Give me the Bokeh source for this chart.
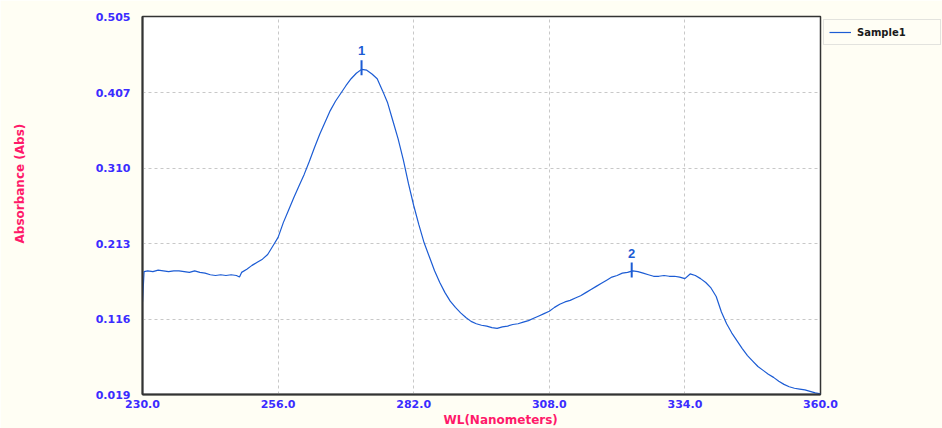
from math import pi
from bokeh.plotting import figure
from bokeh.models import (FixedTicker, NumeralTickFormatter, Legend, LegendItem,
                          Title, ColumnDataSource)
from bokeh.core.properties import value
from bokeh.embed import file_html
from bokeh.resources import INLINE

# ---- data ----
wavelength = [230.0, 230.3, 231, 232, 233, 234, 235, 236, 237, 238, 239, 240,
              241, 242, 243, 244, 245, 246, 247, 248, 248.6, 249, 250, 251, 252,
              253, 254, 255, 256, 257, 258, 259, 260, 261, 262, 263, 264, 265,
              266, 267, 268, 269, 270, 271, 272, 273, 274, 275, 276, 277, 278,
              279, 280, 281, 282, 283, 284, 285, 286, 287, 288, 289, 290, 291,
              292, 293, 294, 295, 296, 297, 298, 299, 300, 301, 302, 303, 304,
              305, 306, 307, 308, 309, 310, 311, 312, 313, 314, 315, 316, 317,
              318, 319, 320, 321, 322, 323, 324, 325, 326, 327, 328, 329, 330,
              331, 332, 333, 334, 335, 336, 337, 338, 339, 340, 341, 342, 343,
              344, 345, 346, 347, 348, 349, 350, 351, 352, 353, 354, 355, 356,
              357, 358, 359, 360]
absorbance = [0.138, 0.177, 0.178, 0.177, 0.179, 0.178, 0.177, 0.178, 0.178, 0.177,
              0.176, 0.178, 0.176, 0.175, 0.173, 0.172, 0.173, 0.172, 0.173, 0.172,
              0.170, 0.176, 0.180, 0.185, 0.189, 0.193, 0.199, 0.210, 0.221, 0.240,
              0.256, 0.272, 0.287, 0.302, 0.319, 0.337, 0.354, 0.369, 0.384, 0.396,
              0.406, 0.416, 0.425, 0.432, 0.437, 0.436, 0.431, 0.425, 0.410, 0.394,
              0.371, 0.348, 0.321, 0.290, 0.262, 0.237, 0.214, 0.196, 0.178, 0.163,
              0.150, 0.139, 0.131, 0.124, 0.118, 0.113, 0.110, 0.108, 0.107, 0.105,
              0.104, 0.106, 0.107, 0.109, 0.110, 0.112, 0.114, 0.117, 0.120, 0.123,
              0.126, 0.131, 0.135, 0.138, 0.140, 0.143, 0.146, 0.150, 0.154, 0.158,
              0.162, 0.166, 0.170, 0.172, 0.175, 0.176, 0.178, 0.177, 0.175, 0.173,
              0.171, 0.171, 0.172, 0.171, 0.171, 0.170, 0.168, 0.174, 0.172, 0.168,
              0.163, 0.156, 0.145, 0.125, 0.110, 0.098, 0.088, 0.078, 0.069, 0.062,
              0.055, 0.050, 0.045, 0.041, 0.036, 0.032, 0.029, 0.027, 0.026, 0.025,
              0.023, 0.021, 0.020]

peak_wl = [272.0, 323.8]
peak_abs = [0.439, 0.179]
peak_labels = ["1", "2"]

x_ticks = [230.0, 256.0, 282.0, 308.0, 334.0, 360.0]
y_ticks = [0.019, 0.116, 0.213, 0.310, 0.407, 0.505]

series_name = "Sample1"
x_title = "WL(Nanometers)"
y_title = "Absorbance (Abs)"

# ---- styling ----
LINE = "#1c5cd4"
TICK_COLOR = "#3b2cff"
TITLE_COLOR = "#ff1a6a"
BG = "#fffef4"
FONT = "DejaVu Sans"

p = figure(frame_width=678, frame_height=378, output_backend="svg",
           toolbar_location=None,
           x_range=(x_ticks[0], x_ticks[-1]), y_range=(y_ticks[0], y_ticks[-1]),
           min_border_left=142, min_border_right=122, min_border_top=16,
           min_border_bottom=34, background_fill_color="white",
           border_fill_color=BG)

src = ColumnDataSource(dict(x=wavelength, y=absorbance))
r = p.line("x", "y", source=src, line_color=LINE, line_width=1.2)

pk = ColumnDataSource(dict(x=peak_wl, y=peak_abs, t=peak_labels))
p.scatter("x", "y", source=pk, marker="dash", angle=pi / 2, size=15,
          line_color=LINE, line_width=2)
p.text("x", "y", text="t", source=pk, y_offset=-17, text_align="center",
       text_baseline="middle", text_color=LINE, text_font=value("Liberation Sans"),
       text_font_size="13px", text_font_style="bold")

# axes
p.xaxis.ticker = FixedTicker(ticks=x_ticks)
p.yaxis.ticker = FixedTicker(ticks=y_ticks)
p.xaxis.formatter = NumeralTickFormatter(format="0.0")
p.yaxis.formatter = NumeralTickFormatter(format="0.000")
for ax in (p.xaxis[0], p.yaxis[0]):
    ax.major_label_text_color = TICK_COLOR
    ax.major_label_text_font = FONT
    ax.major_label_text_font_style = "bold"
    ax.major_label_text_font_size = "11px"
    ax.major_tick_line_color = None
    ax.minor_tick_line_color = None
    ax.major_tick_out = 0
    ax.major_tick_in = 0
    ax.minor_tick_out = 0
    ax.minor_tick_in = 0
    ax.axis_line_color = "#333333"
    ax.axis_line_width = 2
p.yaxis.major_label_standoff = 12
p.xaxis.major_label_standoff = 5

p.outline_line_color = "#333333"
p.outline_line_width = 1.5

p.xgrid.ticker = FixedTicker(ticks=x_ticks)
p.ygrid.ticker = FixedTicker(ticks=y_ticks)
for g in (p.xgrid[0], p.ygrid[0]):
    g.grid_line_color = "#c8c8c8"
    g.grid_line_dash = "3 3"
    g.grid_line_width = 1

# blank spacer so the vertical title sits near the left edge
p.add_layout(Title(text=" ", standoff=48, text_font=FONT,
                   text_font_size="12px"), "left")

# axis titles
p.add_layout(Title(text=x_title, align="left", offset=301, standoff=0,
                   text_color=TITLE_COLOR, text_font=FONT, text_font_style="bold",
                   text_font_size="12px"), "below")
p.add_layout(Title(text=y_title, align="left", offset=151, standoff=0,
                   vertical_align="top",
                   text_color=TITLE_COLOR, text_font=FONT, text_font_style="bold",
                   text_font_size="12px"), "left")

legend = Legend(items=[LegendItem(label=series_name, renderers=[r])],
                location="top_left", padding=5, spacing=0, margin=3,
                glyph_width=22, glyph_height=14, label_height=14, label_width=78,
                label_standoff=6, border_line_color="#c8c8c8",
                background_fill_color=BG, label_text_font=FONT,
                label_text_font_style="bold", label_text_font_size="10px",
                label_text_color="#1a1a1a")
p.add_layout(legend, "right")

open("out.html", "w").write(file_html(p, INLINE))
